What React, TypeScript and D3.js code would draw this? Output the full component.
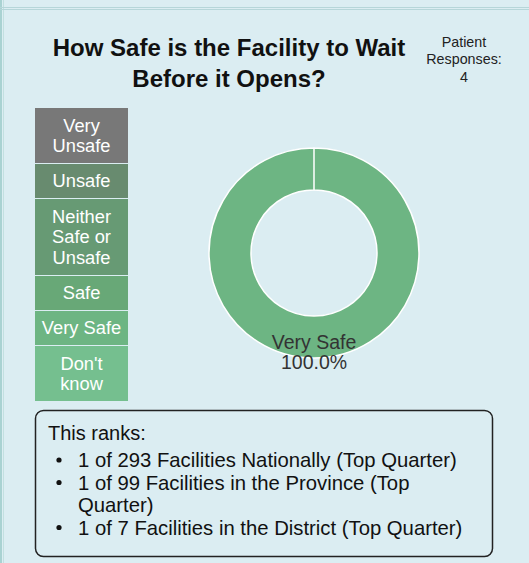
import React from "react";
import * as d3 from "d3";

const categories = ["Very Unsafe", "Unsafe", "Neither Safe or Unsafe", "Safe", "Very Safe", "Don't know"];
const legendLines = [["Very", "Unsafe"], ["Unsafe"], ["Neither", "Safe or", "Unsafe"], ["Safe"], ["Very Safe"], ["Don't", "know"]];
const counts = [0, 0, 0, 0, 4, 0];
const colors = ["#787878", "#688b6f", "#679a74", "#68a877", "#6db583", "#75bf8f"];
const titleLines = ["How Safe is the Facility to Wait", "Before it Opens?"];
const responseLines = ["Patient", "Responses:", "4"];
const rankHeader = "This ranks:";
const rankItems = [
  ["1 of 293 Facilities Nationally (Top Quarter)"],
  ["1 of 99 Facilities in the Province (Top", "Quarter)"],
  ["1 of 7 Facilities in the District (Top Quarter)"],
];

export default function App() {
  const W = 529, H = 563;
  const font = "Arial, 'Liberation Sans', sans-serif";
  const total = d3.sum(counts);
  const pie = d3.pie<number>().sort(null).startAngle(0).endAngle(2 * Math.PI - 1e-4);
  const arcs = pie(counts);
  const arc = d3.arc<d3.PieArcDatum<number>>().innerRadius(63).outerRadius(105);
  const labelArc = d3.arc<d3.PieArcDatum<number>>().innerRadius(99.5).outerRadius(99.5);
  const cx = 314, cy = 253;

  const lineH = 20.5;
  const legendTop = 108;
  let y = legendTop;
  const legendBoxes = legendLines.map((lines, i) => {
    const h = lines.length === 1 ? 34 : lines.length === 2 ? 55 : 76;
    const box = { y, h, lines, color: colors[i] };
    y += h + 1;
    return box;
  });

  let ry = 460;
  const rankRows: { text: string; y: number; bullet: boolean }[] = [];
  rankItems.forEach((item) => {
    item.forEach((t, j) => {
      rankRows.push({ text: t, y: ry, bullet: j === 0 });
      ry += 22.5;
    });
  });

  return (
    <svg width={W} height={H} style={{ position: "absolute", left: 0, top: 0 }} fontFamily={font}>
      <rect x={0} y={0} width={W} height={H} fill="#dbedf2" />
      <rect x={0} y={0} width={2} height={H} fill="#a9d2d2" />
      <rect x={3} y={0} width={1} height={H} fill="#c2e0e0" />
      <rect x={0} y={7} width={W} height={1} fill="#b6d6d9" />
      <rect x={0} y={9} width={W} height={1} fill="#b6d6d9" />

      {titleLines.map((t, i) => (
        <text key={i} x={229} y={55.5 + i * 31} textAnchor="middle" fontSize={24} fontWeight="bold" fill="#111">{t}</text>
      ))}
      {responseLines.map((t, i) => (
        <text key={i} x={464} y={47 + i * 17.3} textAnchor="middle" fontSize={14.3} fill="#222">{t}</text>
      ))}

      {legendBoxes.map((b, i) => (
        <g key={i}>
          <rect x={35} y={b.y} width={93} height={b.h} fill={b.color} />
          {b.lines.map((l, j) => (
            <text key={j} x={81.5} y={b.y + b.h / 2 + (j - (b.lines.length - 1) / 2) * lineH} dy="0.35em" textAnchor="middle" fontSize={18.3} fill="#fff">{l}</text>
          ))}
        </g>
      ))}

      <g transform={`translate(${cx},${cy})`}>
        {arcs.map((a, i) => (
          a.value > 0 ? <path key={i} d={arc(a) || ""} fill={colors[i]} stroke="#fff" strokeWidth={1.5} /> : null
        ))}
        {arcs.map((a, i) => {
          if (a.value <= 0) return null;
          const [lx, ly] = labelArc.centroid(a);
          const pct = ((a.value / total) * 100).toFixed(1) + "%";
          return (
            <text key={"l" + i} textAnchor="middle" fontSize={19.5} fill="#333">
              <tspan x={lx} y={ly - 10} dy="0.35em">{categories[i]}</tspan>
              <tspan x={lx} y={ly + 10} dy="0.35em">{pct}</tspan>
            </text>
          );
        })}
      </g>

      <rect x={35.5} y={410.5} width={457} height={146} rx={8} fill="none" stroke="#222" strokeWidth={1.5} />
      <text x={48} y={433} dy="0.35em" fontSize={20} fill="#111">{rankHeader}</text>
      {rankRows.map((r, i) => (
        <g key={i}>
          {r.bullet ? <circle cx={59} cy={r.y} r={2.6} fill="#111" /> : null}
          <text x={78} y={r.y} dy="0.35em" fontSize={20.3} fill="#111">{r.text}</text>
        </g>
      ))}
    </svg>
  );
}
